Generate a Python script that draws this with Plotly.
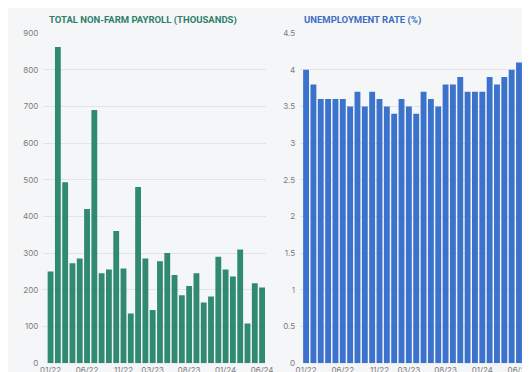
import plotly.graph_objects as go

months = ["01/22","02/22","03/22","04/22","05/22","06/22","07/22","08/22","09/22","10/22","11/22","12/22",
          "01/23","02/23","03/23","04/23","05/23","06/23","07/23","08/23","09/23","10/23","11/23","12/23",
          "01/24","02/24","03/24","04/24","05/24","06/24"]
payroll = [250, 862, 493, 272, 285, 420, 690, 245, 255, 360, 258, 135, 480, 285, 145,
           278, 300, 240, 185, 210, 245, 165, 182, 290, 255, 236, 310, 108, 218, 206]
unemployment = [4.0, 3.8, 3.6, 3.6, 3.6, 3.6, 3.5, 3.7, 3.5, 3.7, 3.6, 3.5, 3.4, 3.6, 3.5,
                3.4, 3.7, 3.6, 3.5, 3.8, 3.8, 3.9, 3.7, 3.7, 3.7, 3.9, 3.8, 3.9, 4.0, 4.1]
tick_labels = ["01/22", "06/22", "11/22", "03/23", "08/23", "01/24", "06/24"]
payroll_title = "TOTAL NON-FARM PAYROLL (THOUSANDS)"
unemp_title = "UNEMPLOYMENT RATE (%)"

GREEN = "#2f8a71"
BLUE = "#3a72cc"
W, H = 530, 372

fig = go.Figure()
fig.add_trace(go.Bar(x=list(range(len(months))), y=payroll, marker_color=GREEN,
                     marker_line_width=0, xaxis="x", yaxis="y", showlegend=False))
fig.add_trace(go.Bar(x=list(range(len(months))), y=unemployment, marker_color=BLUE,
                     marker_line_width=0, xaxis="x2", yaxis="y2", showlegend=False))

tickvals = [months.index(t) for t in tick_labels]
ydom = [(H - 359.8) / H, (H - 20.6) / H]
tickfont = dict(family="Inter, Roboto, sans-serif", size=8, color="#7a7a7a")

common_x = dict(tickmode="array", tickvals=tickvals, ticktext=tick_labels, showgrid=False,
                zeroline=False, showline=False, ticks="", tickfont=tickfont, ticklabelstandoff=1)
common_y = dict(showgrid=True, gridcolor="#e3e3e6", gridwidth=1, zeroline=False, showline=False,
                ticks="", tickfont=tickfont, ticklabelstandoff=4)

fig.update_layout(
    width=W, height=H,
    margin=dict(l=0, r=0, t=0, b=0),
    paper_bgcolor="#f5f6f8", plot_bgcolor="#f5f6f8",
    bargap=0.2,
    xaxis=dict(domain=[32.0 / W, 259.6 / W], range=[-1.0, 29.5], anchor="y", **common_x),
    yaxis=dict(domain=ydom, range=[0, 900], dtick=100, anchor="x", **common_y),
    xaxis2=dict(domain=[294.8 / W, 522.5 / W], range=[-0.81, 29.5], anchor="y2", **common_x),
    yaxis2=dict(domain=ydom, range=[0, 4.5], dtick=0.5, anchor="x2", **common_y),
    annotations=[
        dict(text="<b>" + payroll_title + "</b>", x=36 / W, y=(H - 7.5) / H, xref="paper", yref="paper",
             xanchor="left", yanchor="middle", showarrow=False,
             font=dict(family="Roboto, Inter, sans-serif", size=9.5, color="#2f7f68")),
        dict(text="<b>" + unemp_title + "</b>", x=297 / W, y=(H - 7.5) / H, xref="paper", yref="paper",
             xanchor="left", yanchor="middle", showarrow=False,
             font=dict(family="Roboto, Inter, sans-serif", size=9.5, color="#3b6ec4")),
    ],
)

fig.write_html("out.html")
